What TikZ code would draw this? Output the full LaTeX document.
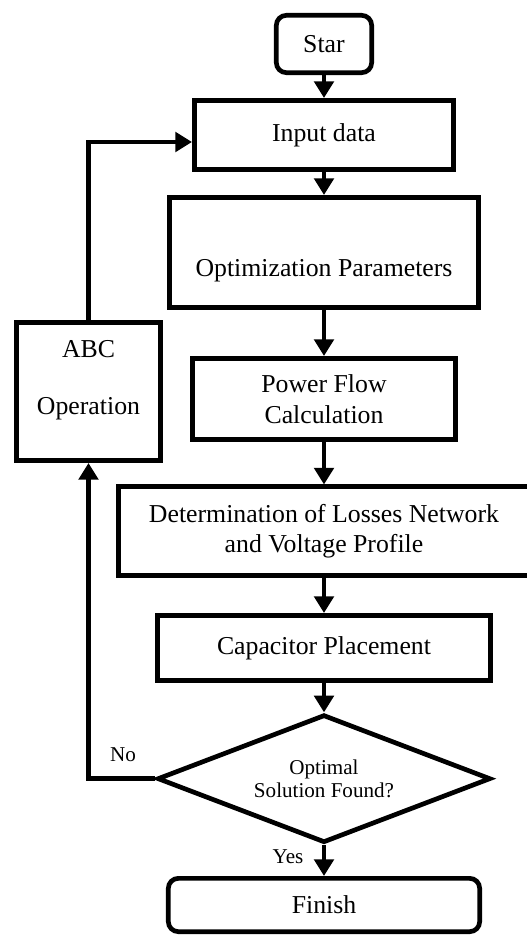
\documentclass[tikz,border=0pt]{standalone}
\usepackage{fontspec}
\setmainfont{Liberation Serif}
\usepackage{tikz}
\usetikzlibrary{positioning,arrows.meta,shapes.geometric}

\begin{document}
\begin{tikzpicture}[>={Triangle[length=0.5cm,width=0.58cm]},
    every node/.style={font=\fontsize{22}{26}\selectfont},
    stepbox/.style={draw, line width=4pt, align=center, inner sep=0pt},
    endbox/.style={stepbox, rounded corners=0.3cm},
    flow/.style={->, line width=4pt},
    lbl/.style={font=\fontsize{18}{20}\selectfont}]
  \useasboundingbox (0,0) rectangle (15.78,-28.08);
  % main column
  \node[endbox, minimum width=2.86cm, minimum height=1.72cm] (star) at (9.72,-1.32) {Star};
  \node[stepbox, minimum width=7.78cm, minimum height=2.08cm] (input) at (9.72,-4.05) {Input data};
  \node[stepbox, minimum width=9.25cm, minimum height=3.31cm, text height=1.56cm, text depth=0.15cm] (param) at (9.72,-7.575) {Optimization Parameters};
  \node[stepbox, minimum width=7.87cm, minimum height=2.44cm] (flowcalc) at (9.72,-11.97) {Power Flow\\Calculation};
  \node[stepbox, minimum width=12.31cm, minimum height=2.65cm] (losses) at (9.72,-15.93) {Determination of Losses Network\\and Voltage Profile};
  \node[stepbox, minimum width=10.0cm, minimum height=1.96cm] (cap) at (9.72,-19.44) {Capacitor Placement};
  \node[stepbox, diamond, aspect=2.6, minimum width=10.0cm, minimum height=3.84cm, font=\fontsize{18}{20}\selectfont] (found) at (9.72,-23.36) {Optimal\\Solution Found?};
  \node[endbox, minimum width=9.34cm, minimum height=1.6cm] (finish) at (9.72,-27.15) {Finish};
  % loop back
  \node[stepbox, minimum width=4.33cm, minimum height=4.15cm, text depth=0.84cm] (abc) at (2.655,-11.745) {ABC\\[0.8cm]Operation};
  \node[lbl] (no) at (3.69,-22.65) {No};
  \node[lbl] (yes) at (8.64,-25.71) {Yes};

  \draw[flow] (star) -- (input);
  \draw[flow] (input) -- (param);
  \draw[flow] (param) -- (flowcalc);
  \draw[flow] (flowcalc) -- (losses);
  \draw[flow] (losses) -- (cap);
  \draw[flow] (cap) -- (found);
  \draw[flow] (found) -- (finish);
  \draw[flow] (found.west) -| (abc.south);
  \draw[flow] (abc.north) |- ([yshift=-0.21cm]input.west);
\end{tikzpicture}
\end{document}
